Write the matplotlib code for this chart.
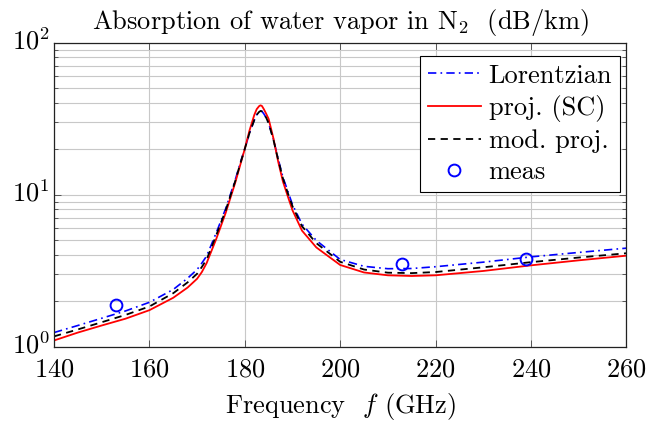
import numpy as np
import matplotlib
matplotlib.use("Agg")
import matplotlib.pyplot as plt
import matplotlib.transforms as mtransforms
from matplotlib.ticker import LogLocator, NullFormatter

plt.rcParams['font.family'] = 'serif'
plt.rcParams['font.serif'] = ['cmr10']
plt.rcParams['mathtext.fontset'] = 'cm'
plt.rcParams['axes.formatter.use_mathtext'] = True

# frequencies (GHz) and absorption (dB/km)
freq = [140, 145, 150, 155, 160, 165, 168, 170, 171, 172, 174, 176, 178, 179, 180, 181,
        182, 182.5, 183, 183.3, 183.6, 184, 184.5, 185, 186, 187, 188, 189, 190, 192,
        195, 200, 205, 210, 215, 220, 230, 240, 250, 260]

lorentz = [1.24, 1.38, 1.54, 1.72, 1.96, 2.38, 2.82, 3.22, 3.55, 3.95, 5.6, 8.1, 12.5,
           16.0, 20.0, 25.5, 31.0, 33.5, 35.0, 35.5, 35.3, 34.0, 32.0, 29.5, 23.2, 17.2,
           13.0, 10.6, 8.6, 6.4, 5.0, 3.75, 3.38, 3.26, 3.27, 3.36, 3.60, 3.90, 4.17, 4.45]

proj_sc = [1.10, 1.24, 1.38, 1.53, 1.74, 2.10, 2.45, 2.80, 3.10, 3.55, 5.1, 7.6, 12.0,
           15.5, 20.0, 26.5, 33.5, 36.5, 38.2, 38.7, 38.3, 36.5, 34.0, 31.5, 23.5, 16.5,
           12.2, 9.8, 7.9, 5.8, 4.5, 3.45, 3.08, 2.95, 2.92, 2.95, 3.15, 3.43, 3.70, 3.97]

mod_proj = [1.17, 1.30, 1.45, 1.62, 1.84, 2.25, 2.65, 3.02, 3.35, 3.75, 5.4, 7.9, 12.3,
            15.8, 20.0, 25.5, 31.0, 33.5, 35.0, 35.5, 35.3, 34.0, 32.0, 29.5, 23.0, 17.0,
            12.8, 10.3, 8.4, 6.2, 4.8, 3.62, 3.22, 3.07, 3.05, 3.10, 3.33, 3.60, 3.86, 4.12]

meas_f = [153, 213, 239]
meas_a = [1.88, 3.48, 3.76]

fs = 19

fig = plt.figure(figsize=(6.47, 4.26), dpi=100)
ax = fig.add_axes([0.0835, 0.186, 0.8845, 0.714])

ax.plot(freq, lorentz, color='blue', lw=1.2, linestyle=(0, (5, 2.5, 1, 2.5)), label='Lorentzian')
ax.plot(freq, proj_sc, color='red', lw=1.3, label='proj. (SC)')
ax.plot(freq, mod_proj, color='black', lw=1.3, linestyle=(0, (4, 3)), label='mod. proj.')
ax.plot(meas_f, meas_a, 'o', mfc='none', mec='blue', mew=1.4, ms=8.5, label='meas')

ax.set_yscale('log')
ax.set_xlim(140, 260)
ax.set_ylim(1, 100)
ax.set_xticks([140, 160, 180, 200, 220, 240, 260])
ax.yaxis.set_major_locator(LogLocator(base=10))
ax.yaxis.set_minor_locator(LogLocator(base=10, subs=np.arange(2, 10)))
ax.yaxis.set_minor_formatter(NullFormatter())

ax.grid(True, which='major', color='#c8c8c8', lw=0.8)
ax.grid(True, which='minor', axis='y', color='#c8c8c8', lw=0.8)
ax.set_axisbelow(True)

ax.tick_params(which='both', direction='in', top=True, right=True, labelsize=fs, colors='black')
ax.tick_params(which='major', length=5, width=0.6, color='#444444')
ax.tick_params(which='minor', length=3, width=0.6, color='#444444')
ax.tick_params(axis='x', pad=8)
ax.tick_params(axis='y', pad=3)

# nudge y labels up a little so 10^0 clears the 140 label
shift = mtransforms.ScaledTranslation(0, 3 / 72, fig.dpi_scale_trans)
for lbl in ax.get_yticklabels():
    lbl.set_transform(lbl.get_transform() + shift)

for s in ax.spines.values():
    s.set_linewidth(0.9)
    s.set_color('#222222')

ax.set_title('Absorption of water vapor in N$_2$  (dB/km)', fontsize=fs, pad=10)
ax.set_xlabel('Frequency  $f$ (GHz)', fontsize=fs, labelpad=7)

leg = ax.legend(loc='upper right', bbox_to_anchor=(0.989, 0.956), borderaxespad=0,
                fontsize=fs, frameon=True, fancybox=False,
                edgecolor='black', framealpha=1, handlelength=2.0,
                handletextpad=0.3, borderpad=0.3, labelspacing=0.28)
leg.get_frame().set_linewidth(0.8)

fig.savefig('out.png', dpi=100)
